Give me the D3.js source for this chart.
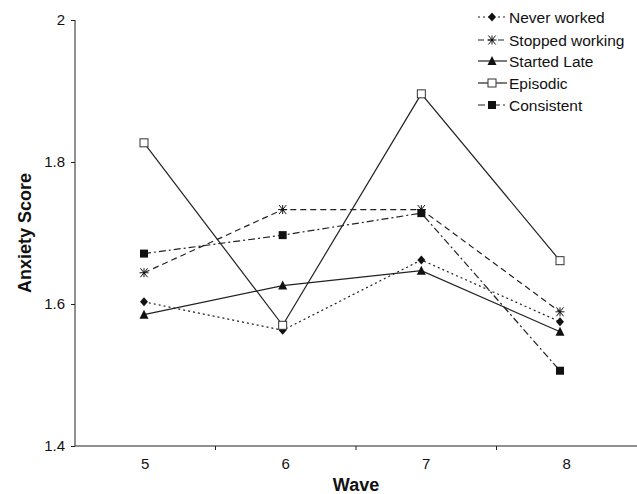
<!DOCTYPE html>
<html>
<head>
<meta charset="utf-8">
<script src="https://cdn.jsdelivr.net/npm/d3@7"></script>
<style>
  html, body { margin: 0; padding: 0; background: #fff; }
  svg { display: block; font-family: "Liberation Sans", Arial, sans-serif; }
</style>
</head>
<body>
<svg id="chart" width="637" height="494"></svg>
<script>
const waves = ["5", "6", "7", "8"];
const seriesNames = ["Never worked", "Stopped working", "Started Late", "Episodic", "Consistent"];
const neverWorked    = [1.603, 1.563, 1.662, 1.575];
const stoppedWorking = [1.644, 1.733, 1.733, 1.589];
const startedLate    = [1.585, 1.626, 1.647, 1.561];
const episodic       = [1.827, 1.570, 1.896, 1.661];
const consistent     = [1.671, 1.697, 1.728, 1.506];
const yTicks = [1.4, 1.6, 1.8, 2];

const seriesValues = [neverWorked, stoppedWorking, startedLate, episodic, consistent];
const styles = [
  { dash: "2,3", marker: "diamond" },
  { dash: "6,4", marker: "asterisk" },
  { dash: null, marker: "triangle" },
  { dash: null, marker: "opensquare" },
  { dash: "7,3,2,3", marker: "square" }
];

const svg = d3.select("#chart");
const ink = "#222";
const FONT = "Liberation Sans, Arial, sans-serif";

const y = d3.scaleLinear().domain([1.4, 2]).range([446, 20]);
const xBand = d3.scaleBand().domain(waves).range([75, 637]);
const xPt = d3.scalePoint().domain(waves).range([144, 560]);

// Y axis
const yAxis = svg.append("g").attr("transform", "translate(75,0)")
  .call(d3.axisLeft(y).tickValues(yTicks).tickSize(4).tickPadding(6).tickFormat(d3.format("")));
yAxis.select(".domain").attr("stroke", ink).attr("d", "M0,20V446");
yAxis.selectAll(".tick line").attr("stroke", ink);
yAxis.selectAll(".tick text").attr("font-size", 15).attr("fill", "#111").attr("font-family", FONT);

// X axis
const xAxis = svg.append("g").attr("transform", "translate(0,446)")
  .call(d3.axisBottom(xBand).tickSize(0).tickPadding(12));
xAxis.select(".domain").attr("stroke", ink).attr("d", "M75,0H637");
xAxis.selectAll(".tick text").attr("font-size", 15).attr("fill", "#111").attr("font-family", FONT);
const bounds = waves.slice(1).map(w => xBand(w));
xAxis.selectAll("line.bound").data(bounds).enter().append("line")
  .attr("class", "bound").attr("x1", d => d).attr("x2", d => d)
  .attr("y1", 0).attr("y2", 4).attr("stroke", ink);

// Axis titles
svg.append("text").attr("x", 356).attr("y", 491).attr("text-anchor", "middle")
  .attr("font-size", 18).attr("font-weight", "bold").attr("fill", "#111").text("Wave");
svg.append("text").attr("transform", "translate(31,233) rotate(-90)").attr("text-anchor", "middle")
  .attr("font-size", 18).attr("font-weight", "bold").attr("fill", "#111").text("Anxiety Score");

function drawMarker(g, type, cx, cy) {
  if (type === "diamond") {
    g.append("path").attr("d", `M${cx},${cy-4.5}L${cx+4},${cy}L${cx},${cy+4.5}L${cx-4},${cy}Z`).attr("fill", "#111");
  } else if (type === "triangle") {
    g.append("path").attr("d", `M${cx},${cy-5}L${cx+4.5},${cy+4}L${cx-4.5},${cy+4}Z`).attr("fill", "#111");
  } else if (type === "opensquare") {
    g.append("rect").attr("x", cx-4).attr("y", cy-4).attr("width", 8).attr("height", 8)
      .attr("fill", "#fff").attr("stroke", "#333").attr("stroke-width", 1);
  } else if (type === "square") {
    g.append("rect").attr("x", cx-4).attr("y", cy-4).attr("width", 8).attr("height", 8).attr("fill", "#111");
  } else if (type === "asterisk") {
    const r = 4.5;
    const p = `M${cx-r},${cy}H${cx+r}M${cx-r*0.8},${cy-r}L${cx+r*0.8},${cy+r}M${cx+r*0.8},${cy-r}L${cx-r*0.8},${cy+r}M${cx},${cy-r}V${cy+r}`;
    g.append("path").attr("d", p).attr("stroke", "#111").attr("stroke-width", 1).attr("fill", "none");
  }
}

const line = d3.line().x((d, i) => xPt(waves[i])).y(d => y(d));

seriesValues.forEach((vals, si) => {
  const g = svg.append("g");
  g.append("path").attr("d", line(vals)).attr("fill", "none").attr("stroke", ink)
    .attr("stroke-width", 1.2).attr("stroke-dasharray", styles[si].dash);
  vals.forEach((v, i) => drawMarker(g, styles[si].marker, xPt(waves[i]), y(v)));
});

// Legend
const legY = [17, 40, 61, 83, 105];
seriesNames.forEach((name, i) => {
  const g = svg.append("g");
  const yy = legY[i];
  g.append("line").attr("x1", 478).attr("x2", 507).attr("y1", yy).attr("y2", yy)
    .attr("stroke", ink).attr("stroke-width", 1.2).attr("stroke-dasharray", styles[i].dash);
  drawMarker(g, styles[i].marker, 492, yy);
  g.append("text").attr("x", 509).attr("y", yy + 5.5).attr("font-size", 15.5).attr("fill", "#111").text(name);
});
</script>
</body>
</html>
